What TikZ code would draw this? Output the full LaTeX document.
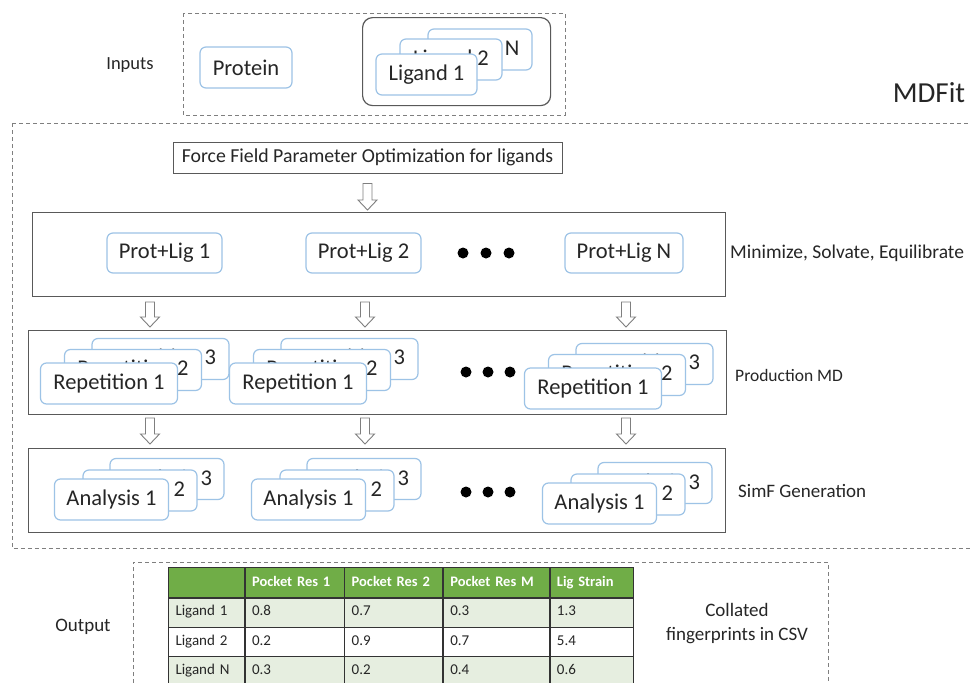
\documentclass[tikz,border=0pt]{standalone}
\usepackage{fontspec}
\setmainfont{Carlito}
\usetikzlibrary{calc,matrix}
\definecolor{nodeblue}{HTML}{9DC3E6}
\definecolor{txt}{HTML}{262626}
\definecolor{hdrgreen}{HTML}{70AD47}
\definecolor{rowgreen}{HTML}{E6EEE0}
\definecolor{boxgray}{HTML}{595959}
\definecolor{dashgray}{HTML}{7F7F7F}
\newcommand\blockarr[2]{\draw[blk] ($(#1)+(-4.5,0)$) -- ($(#1)+(4.5,0)$) -- ($(#2)+(4.5,-10)$) -- ($(#2)+(9.5,-10)$) -- (#2) -- ($(#2)+(-9.5,-10)$) -- ($(#2)+(-4.5,-10)$) -- cycle;}
\begin{document}
\begin{tikzpicture}[x=1pt,y=-1pt,
  bnode/.style={draw=nodeblue, line width=1.2pt, rounded corners=6pt, fill=white, minimum height=41pt, inner sep=0pt, text=txt, font=\fontsize{22.5}{26}\selectfont},
  rowbox/.style={draw=boxgray, line width=1.2pt, inner sep=0pt, anchor=north west},
  dashbox/.style={draw=dashgray, dash pattern=on 4pt off 3pt, line width=0.9pt},
  lbl/.style={text=txt, font=\fontsize{18.5}{22}\selectfont, inner sep=0pt},
  blk/.style={draw=dashgray, fill=white, line width=0.9pt, line join=miter},
  dotn/.style={circle, fill=black, minimum size=11pt, inner sep=0pt},
  tcell/.style={draw=black!80, line width=0.6pt, anchor=center, inner xsep=7pt, inner ysep=0pt, minimum height=28.7pt, text height=10pt, text depth=3pt, align=left, font=\fontsize{15}{17}\selectfont, text=txt}
]
\useasboundingbox (0,0) rectangle (970,683);
\fill[white] (0,0) rectangle (970,683);

% ---------- Inputs ----------
\draw[dashbox] (183,13) rectangle (565,115);
\node[lbl] (inputs) at (130,65) {Inputs};
\node[bnode, minimum width=92pt] (protein) at (246,67.5) {Protein};
\node[draw=boxgray, line width=1.2pt, rounded corners=10pt, minimum width=188pt, minimum height=88pt, anchor=north west] (liggrp) at (362,17) {};
\node[bnode, minimum width=104pt] (ligN) at (480,49.5) {Ligand N};
\node[bnode, minimum width=102pt] (lig2) at (451,59.5) {Ligand 2};
\node[bnode, minimum width=101pt] (lig1) at (426.5,74.5) {Ligand 1};
\node[text=txt, font=\fontsize{29}{32}\selectfont, inner sep=0pt] (mdfit) at (929,93) {MDFit};

% ---------- MDFit box ----------
\draw[dashbox] (12,123) -- (975,123);
\draw[dashbox] (12,123) -- (12,548) -- (975,548);
\node[draw=boxgray, line width=1pt, minimum width=389pt, minimum height=31pt, inner sep=0pt, text=txt, font=\fontsize{19.8}{22}\selectfont] (ff) at (367.5,157.5) {Force Field Parameter Optimization for ligands};

% row 1
\node[rowbox, minimum width=693pt, minimum height=84pt] (row1) at (32,212) {};
\node[bnode, minimum width=115pt, minimum height=40pt] (pl1) at (164.5,253) {Prot+Lig 1};
\node[bnode, minimum width=115pt, minimum height=40pt] (pl2) at (363.5,253) {Prot+Lig 2};
\node[bnode, minimum width=118pt, minimum height=40pt] (plN) at (624,253) {Prot+Lig N};
\node[dotn] (d1a) at (463,253) {};
\node[dotn] (d1b) at (486,253) {};
\node[dotn] (d1c) at (509,253) {};
\node[lbl, anchor=west, font=\fontsize{19.5}{22}\selectfont] (l1) at (730,253) {Minimize, Solvate, Equilibrate};

\coordinate (a0t) at ($(ff.south)+(0,10)$);
\coordinate (a0b) at ($(ff.south |- row1.north)+(0,-2)$);
\blockarr{a0t}{a0b}

% row 2
\node[rowbox, minimum width=698pt, minimum height=84pt] (row2) at (28,330) {};
\foreach \dx/\dy/\g in {0/0/a,189/0/b,484/5/c}{
  \node[bnode, minimum width=137pt] (r3\g) at (160.5+\dx,359+\dy) {Repetition 3};
  \node[bnode, minimum width=137pt] (r2\g) at (133+\dx,370+\dy) {Repetition 2};
  \node[bnode, minimum width=137pt] (r1\g) at (109+\dx,383.5+\dy) {Repetition 1};
}
\node[dotn] (d2a) at (466,372) {};
\node[dotn] (d2b) at (488,372) {};
\node[dotn] (d2c) at (510,372) {};
\node[lbl, anchor=west, font=\fontsize{17.5}{22}\selectfont] (l2) at (735,375) {Production MD};

\foreach \x/\n in {150/a,365/b,626/c}{
  \coordinate (a1t\n) at (\x,302);
  \coordinate (a1b\n) at (\x,327);
  \blockarr{a1t\n}{a1b\n}
  \coordinate (a2t\n) at (\x,418);
  \coordinate (a2b\n) at (\x,444);
  \blockarr{a2t\n}{a2b\n}
}

% row 3
\node[rowbox, minimum width=697pt, minimum height=84pt] (row3) at (28,448) {};
\foreach \dx/\dy/\g in {0/0/a,197/0/b,488/4/c}{
  \node[bnode, minimum width=114pt] (s3\g) at (167+\dx,479+\dy) {Analysis 3};
  \node[bnode, minimum width=114pt] (s2\g) at (140+\dx,490.5+\dy) {Analysis 2};
  \node[bnode, minimum width=114pt] (s1\g) at (111.5+\dx,499.5+\dy) {Analysis 1};
}
\node[dotn] (d3a) at (466,492) {};
\node[dotn] (d3b) at (488,492) {};
\node[dotn] (d3c) at (510,492) {};
\node[lbl, anchor=west, font=\fontsize{19}{22}\selectfont] (l3) at (738,491) {SimF Generation};

% ---------- Output ----------
\draw[dashbox] (133,690) -- (133,562) -- (828,562) -- (828,690);
\node[lbl, font=\fontsize{19}{22}\selectfont] (output) at (83,627) {Output};
\node[lbl, align=center, font=\fontsize{19}{24}\selectfont] (collated) at (737,624) {Collated\\fingerprints in CSV};

\matrix (tbl) [matrix of nodes, anchor=north west, inner sep=0pt, row sep=0pt, column sep=0pt, nodes in empty cells,
  nodes={tcell},
  row 1/.style={nodes={fill=hdrgreen, text=white, minimum height=30pt, font=\fontsize{14.5}{16}\selectfont\bfseries}},
  row 2/.style={nodes={fill=rowgreen}},
  row 3/.style={nodes={fill=white}},
  row 4/.style={nodes={fill=rowgreen, minimum height=29pt}},
  column 1/.style={nodes={text width=62pt}},
  column 2/.style={nodes={text width=85pt}},
  column 3/.style={nodes={text width=84pt}},
  column 4/.style={nodes={text width=92pt}},
  column 5/.style={nodes={text width=69pt}}
] at (168,567) {
  & Pocket Res 1 & Pocket Res 2 & Pocket Res M & Lig Strain \\
  Ligand 1 & 0.8 & 0.7 & 0.3 & 1.3 \\
  Ligand 2 & 0.2 & 0.9 & 0.7 & 5.4 \\
  Ligand N & 0.3 & 0.2 & 0.4 & 0.6 \\
};
\end{tikzpicture}
\end{document}
